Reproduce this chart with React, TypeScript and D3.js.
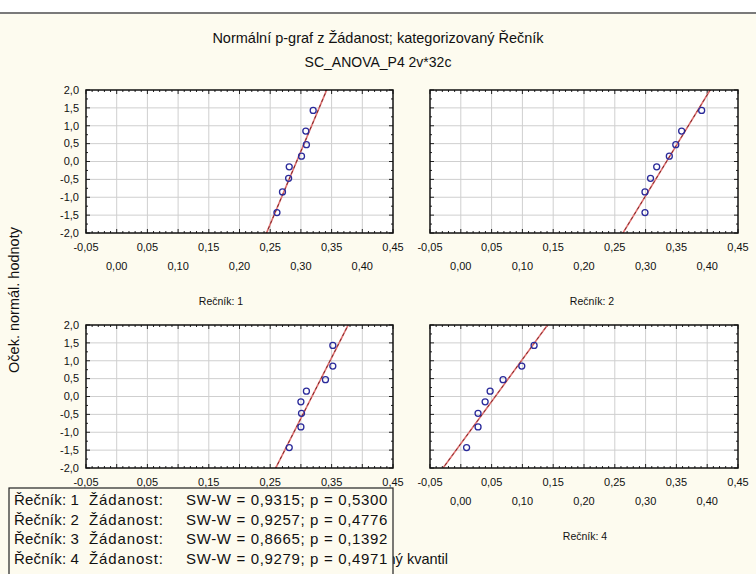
import React from "react";
import * as d3 from "d3";

const W = 756;
const H = 574;

const title = "Normální p-graf z Žádanost; kategorizovaný Řečník";
const subtitle = "SC_ANOVA_P4 2v*32c";
const yTitle = "Oček. normál. hodnoty";
const xTitle = "Pozorovaný kvantil";

const groups = ["1", "2", "3", "4"];
const expectedZ = [-1.43, -0.85, -0.47, -0.15, 0.15, 0.47, 0.85, 1.43];
const observed1 = [0.261, 0.27, 0.28, 0.281, 0.301, 0.309, 0.308, 0.32];
const observed2 = [0.299, 0.299, 0.308, 0.318, 0.3385, 0.349, 0.3585, 0.391];
const observed3 = [0.281, 0.3, 0.301, 0.3, 0.309, 0.34, 0.352, 0.352];
const observed4 = [0.0094, 0.028, 0.028, 0.0395, 0.0476, 0.0686, 0.099, 0.119];
const fitMeans = [0.293, 0.334, 0.318, 0.056];
const fitSds = [0.0245, 0.0354, 0.0295, 0.0424];
const swW = ["0,9315", "0,9257", "0,8665", "0,9279"];
const pVals = ["0,5300", "0,4776", "0,1392", "0,4971"];

const xTicksRow1 = [-0.05, 0.05, 0.15, 0.25, 0.35, 0.45];
const xTicksRow2 = [0.0, 0.1, 0.2, 0.3, 0.4];
const yTicks = [2.0, 1.5, 1.0, 0.5, 0.0, -0.5, -1.0, -1.5, -2.0];

const observedAll = [observed1, observed2, observed3, observed4];

const panels = [
  { x0: 86, x1: 393, y0: 90, y1: 233, left: true, labX: 221, row2: true, sub: true },
  { x0: 430, x1: 738, y0: 90, y1: 233, left: false, labX: 592, row2: true, sub: true },
  { x0: 86, x1: 393, y0: 325, y1: 468, left: true, labX: 221, row2: false, sub: false },
  { x0: 430, x1: 738, y0: 325, y1: 468, left: false, labX: 585, row2: true, sub: true },
];

const fmt = (v: number, d: number) => {
  const s = Math.abs(v) < 1e-9 ? (0).toFixed(d) : v.toFixed(d);
  return s.replace(".", ",");
};

const tickFont = "'Liberation Sans', Arial, sans-serif";

function Panel({ idx }: { idx: number }) {
  const p = panels[idx];
  const x = d3.scaleLinear().domain([-0.05, 0.45]).range([p.x0, p.x1]);
  const y = d3.scaleLinear().domain([-2, 2]).range([p.y1, p.y0]);
  const obs = observedAll[idx];
  const m = fitMeans[idx];
  const s = fitSds[idx];
  const clipId = `clip${idx}`;
  const lineGen = d3
    .line<number>()
    .x((z) => x(m + s * z))
    .y((z) => y(z));
  const lineZ = [-2.2, 2.2];
  const gridX = d3.range(0, 9).map((i) => i * 0.05);
  const gridY = d3.range(-3, 4).map((i) => i * 0.5);
  const minorX = d3.range(-5, 46).map((i) => i / 100);
  const minorY = d3.range(-8, 9).map((i) => i * 0.25);
  return (
    <g>
      <defs>
        <clipPath id={clipId}>
          <rect x={p.x0} y={p.y0} width={p.x1 - p.x0} height={p.y1 - p.y0} />
        </clipPath>
      </defs>
      <rect x={p.x0} y={p.y0} width={p.x1 - p.x0} height={p.y1 - p.y0} fill="#ffffff" />
      {gridX.map((v, i) => (
        <line key={"gx" + i} x1={x(v)} x2={x(v)} y1={p.y0} y2={p.y1} stroke="#cfcfcf" strokeWidth={1} />
      ))}
      {gridY.map((v, i) => (
        <line key={"gy" + i} x1={p.x0} x2={p.x1} y1={y(v)} y2={y(v)} stroke="#cfcfcf" strokeWidth={1} />
      ))}
      {minorX.map((v, i) => {
        const major = Math.abs(Math.round(v * 20) - v * 20) < 1e-6;
        const len = major ? 4 : 2;
        return (
          <g key={"mx" + i}>
            <line x1={x(v)} x2={x(v)} y1={p.y0} y2={p.y0 + len} stroke="#222" strokeWidth={1} />
            <line x1={x(v)} x2={x(v)} y1={p.y1} y2={p.y1 - len} stroke="#222" strokeWidth={1} />
          </g>
        );
      })}
      {minorY.map((v, i) => {
        const major = Math.abs(Math.round(v * 2) - v * 2) < 1e-6;
        const len = major ? 4 : 2;
        return (
          <g key={"my" + i}>
            <line x1={p.x0} x2={p.x0 + len} y1={y(v)} y2={y(v)} stroke="#222" strokeWidth={1} />
            <line x1={p.x1} x2={p.x1 - len} y1={y(v)} y2={y(v)} stroke="#222" strokeWidth={1} />
          </g>
        );
      })}
      <g clipPath={`url(#${clipId})`}>
        <path d={lineGen(lineZ) || ""} stroke="#e07070" strokeWidth={1.6} fill="none" />
        <path d={lineGen(lineZ) || ""} stroke="#7a2a2a" strokeWidth={1} strokeDasharray="3,3" fill="none" />
      </g>
      {obs.map((v, i) => (
        <circle key={"pt" + i} cx={x(v)} cy={y(expectedZ[i])} r={3} fill="none" stroke="#2a2a9a" strokeWidth={1.3} />
      ))}
      <rect x={p.x0} y={p.y0} width={p.x1 - p.x0} height={p.y1 - p.y0} fill="none" stroke="#111" strokeWidth={1.5} />
      {p.left &&
        yTicks.map((v, i) => (
          <text key={"yl" + i} x={p.x0 - 7} y={y(v)} dy="0.35em" textAnchor="end" fontSize={11} fontFamily={tickFont} fill="#111">
            {fmt(v, 1)}
          </text>
        ))}
      {xTicksRow1.map((v, i) => (
        <text key={"xa" + i} x={x(v)} y={p.y1 + 14.5} dy="0.35em" textAnchor="middle" fontSize={11} fontFamily={tickFont} fill="#111">
          {fmt(v, 2)}
        </text>
      ))}
      {p.row2 &&
        xTicksRow2.map((v, i) => (
          <text key={"xb" + i} x={x(v)} y={p.y1 + 33} dy="0.35em" textAnchor="middle" fontSize={11} fontFamily={tickFont} fill="#111">
            {fmt(v, 2)}
          </text>
        ))}
      {p.sub && (
        <text x={p.labX} y={p.y1 + 68} dy="0.35em" textAnchor="middle" fontSize={10.5} fontFamily={tickFont} fill="#111">
          {`Rečník: ${groups[idx]}`}
        </text>
      )}
    </g>
  );
}

export default function App() {
  const legendTop = 488;
  const lineY = [500, 519.5, 539, 558.5];
  return (
    <svg width={W} height={H} style={{ display: "block", position: "absolute", left: 0, top: 0 }}>
      <rect x={0} y={0} width={W} height={H} fill="#fdfbef" />
      <rect x={0} y={0} width={W} height={12} fill="#ffffff" />
      <line x1={0} x2={W} y1={13} y2={13} stroke="#7a7a7a" strokeWidth={2} />
      <text x={378} y={38} dy="0.35em" textAnchor="middle" fontSize={14.5} fontFamily={tickFont} fill="#111">
        {title}
      </text>
      <text x={378} y={62} dy="0.35em" textAnchor="middle" fontSize={14} fontFamily={tickFont} fill="#111">
        {subtitle}
      </text>
      <text
        transform={`translate(14, 300) rotate(-90)`}
        dy="0.35em"
        textAnchor="middle"
        fontSize={14.5}
        fontFamily={tickFont}
        fill="#111"
      >
        {yTitle}
      </text>
      <text x={448} y={558.5} dy="0.35em" textAnchor="end" fontSize={14.5} fontFamily={tickFont} fill="#111">
        {xTitle}
      </text>
      {panels.map((_, i) => (
        <Panel key={i} idx={i} />
      ))}
      <rect x={9} y={legendTop} width={384} height={100} fill="#fdfbef" stroke="#222" strokeWidth={1.2} />
      {groups.map((g, i) => (
        <g key={"lg" + i} fontSize={15} fontFamily={tickFont} fill="#111">
          <text x={14} y={lineY[i]} dy="0.35em" letterSpacing={0.2}>{`Řečník: ${g}`}</text>
          <text x={89} y={lineY[i]} dy="0.35em" letterSpacing={0.9}>Žádanost:</text>
          <text x={186} y={lineY[i]} dy="0.35em" letterSpacing={0.65}>{`SW-W = ${swW[i]}; p = ${pVals[i]}`}</text>
        </g>
      ))}
    </svg>
  );
}
